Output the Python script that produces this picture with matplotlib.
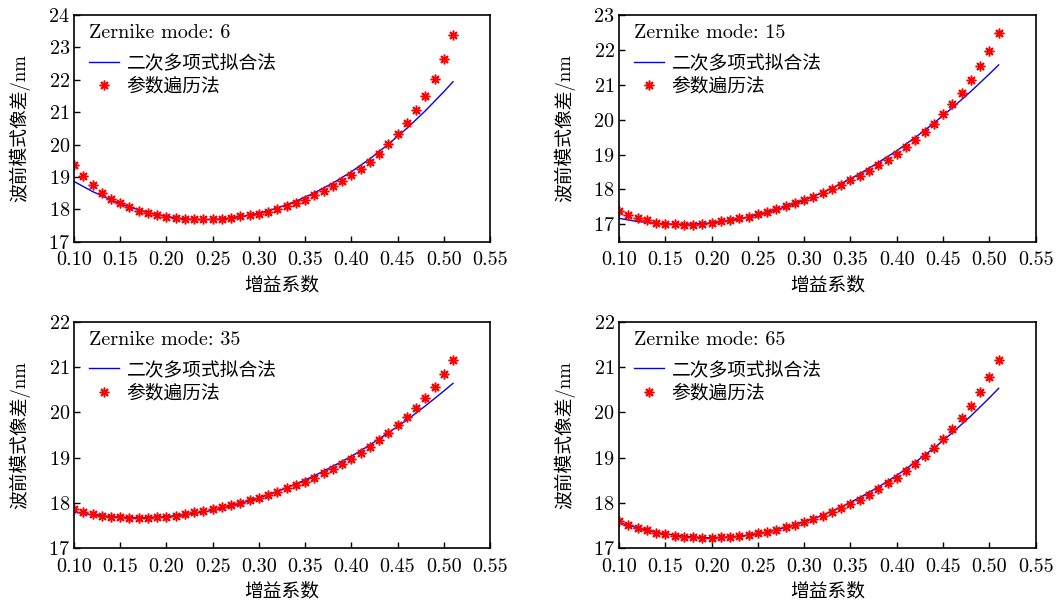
import numpy as np
import matplotlib
matplotlib.use("Agg")
from matplotlib import pyplot as plt

plt.rcParams['font.family'] = ['cmr10', 'Noto Sans CJK SC', 'DejaVu Sans']
plt.rcParams['axes.formatter.use_mathtext'] = True
plt.rcParams['mathtext.fontset'] = 'cm'

# gain coefficient, sampled every 0.01 for the traversal method
gain_pts = [0.10, 0.11, 0.12, 0.13, 0.14, 0.15, 0.16, 0.17, 0.18, 0.19,
            0.20, 0.21, 0.22, 0.23, 0.24, 0.25, 0.26, 0.27, 0.28, 0.29,
            0.30, 0.31, 0.32, 0.33, 0.34, 0.35, 0.36, 0.37, 0.38, 0.39,
            0.40, 0.41, 0.42, 0.43, 0.44, 0.45, 0.46, 0.47, 0.48, 0.49,
            0.50, 0.51]
gain_fit = [0.10, 0.12, 0.14, 0.16, 0.18, 0.20, 0.22, 0.24, 0.26, 0.28,
            0.30, 0.32, 0.34, 0.36, 0.38, 0.40, 0.42, 0.44, 0.46, 0.48,
            0.50, 0.51]

modes = [6, 15, 35, 65]

# 参数遍历法 (points)
trav_6 = [19.36, 19.02, 18.74, 18.51, 18.33, 18.19, 18.07, 17.96, 17.88, 17.81,
          17.77, 17.74, 17.71, 17.69, 17.69, 17.69, 17.71, 17.74, 17.78, 17.81,
          17.86, 17.93, 18.02, 18.10, 18.20, 18.29, 18.43, 18.56, 18.71, 18.86,
          19.06, 19.25, 19.47, 19.72, 20.01, 20.32, 20.67, 21.06, 21.51, 22.04,
          22.65, 23.38]
trav_15 = [17.39, 17.28, 17.18, 17.11, 17.05, 17.02, 17.00, 16.99, 16.99, 17.01,
           17.04, 17.08, 17.12, 17.17, 17.22, 17.29, 17.36, 17.43, 17.51, 17.60,
           17.69, 17.79, 17.90, 18.01, 18.14, 18.26, 18.39, 18.53, 18.69, 18.85,
           19.02, 19.21, 19.42, 19.64, 19.88, 20.15, 20.45, 20.77, 21.13, 21.53,
           21.98, 22.49]
trav_35 = [17.86, 17.79, 17.75, 17.71, 17.69, 17.68, 17.67, 17.67, 17.67, 17.68,
           17.70, 17.72, 17.75, 17.79, 17.82, 17.87, 17.91, 17.96, 18.01, 18.06,
           18.12, 18.18, 18.25, 18.32, 18.39, 18.47, 18.56, 18.66, 18.75, 18.86,
           18.98, 19.10, 19.24, 19.38, 19.54, 19.71, 19.90, 20.10, 20.32, 20.57,
           20.85, 21.16]
trav_65 = [17.60, 17.52, 17.45, 17.40, 17.34, 17.31, 17.28, 17.25, 17.24, 17.23,
           17.23, 17.24, 17.25, 17.28, 17.30, 17.33, 17.37, 17.41, 17.46, 17.52,
           17.58, 17.65, 17.72, 17.80, 17.89, 17.98, 18.07, 18.18, 18.30, 18.43,
           18.56, 18.71, 18.86, 19.03, 19.21, 19.41, 19.63, 19.88, 20.14, 20.44,
           20.77, 21.16]

# 二次多项式拟合法 (line)
fit_6 = [18.86, 18.55, 18.29, 18.07, 17.90, 17.78, 17.70, 17.68, 17.70, 17.77,
         17.88, 18.04, 18.25, 18.51, 18.81, 19.16, 19.56, 20.01, 20.50, 21.04,
         21.63, 21.94]
fit_15 = [17.17, 17.08, 17.03, 17.00, 17.01, 17.04, 17.11, 17.21, 17.34, 17.50,
          17.69, 17.91, 18.17, 18.45, 18.77, 19.11, 19.49, 19.90, 20.34, 20.81,
          21.31, 21.57]
fit_35 = [17.80, 17.74, 17.70, 17.68, 17.68, 17.70, 17.74, 17.80, 17.88, 17.99,
          18.11, 18.25, 18.42, 18.60, 18.81, 19.03, 19.28, 19.55, 19.83, 20.14,
          20.47, 20.64]
fit_65 = [17.57, 17.45, 17.35, 17.29, 17.25, 17.23, 17.25, 17.29, 17.36, 17.46,
          17.58, 17.73, 17.91, 18.12, 18.35, 18.61, 18.90, 19.21, 19.55, 19.92,
          20.32, 20.53]

trav_all = [trav_6, trav_15, trav_35, trav_65]
fit_all = [fit_6, fit_15, fit_35, fit_65]
ylims = [(17, 24), (16.5, 23), (17, 22), (17, 22)]
yticks = [range(17, 25), range(17, 24), range(17, 23), range(17, 23)]
xticks = [0.10, 0.15, 0.20, 0.25, 0.30, 0.35, 0.40, 0.45, 0.50, 0.55]

fig = plt.figure(figsize=(10.59, 6.01), dpi=100)
# [left, bottom, width, height] for each panel
boxes = [[0.0699, 0.5978, 0.3928, 0.3772],
         [0.5845, 0.5978, 0.3935, 0.3772],
         [0.0699, 0.0877, 0.3928, 0.3770],
         [0.5845, 0.0877, 0.3935, 0.3770]]

for i in range(4):
    ax = fig.add_axes(boxes[i])
    ax.plot(gain_fit, fit_all[i], color='blue', lw=1.0, label='二次多项式拟合法')
    ax.plot(gain_pts, trav_all[i], ls='none', marker=(8, 2, 0), ms=7, mew=1.1,
            color='red', label='参数遍历法')
    ax.set_xlim(0.10, 0.55)
    ax.set_ylim(*ylims[i])
    ax.set_xticks(xticks)
    ax.set_xticklabels(['%.2f' % t for t in xticks])
    ax.set_yticks(list(yticks[i]))
    ax.tick_params(direction='in', length=4, width=1, labelsize=14.5)
    ax.tick_params(axis='x', pad=7)
    ax.tick_params(axis='y', pad=3)
    for sp in ax.spines.values():
        sp.set_linewidth(1.2)
    ax.set_xlabel('增益系数', fontsize=13.5, labelpad=5)
    ax.set_ylabel('波前模式像差/nm', fontsize=13.5, labelpad=13)

    ax.text(0.036, 1 - 18 / 226.7, 'Zernike mode: %d' % modes[i], transform=ax.transAxes,
            fontsize=14.5, ha='left', va='center')
    ax.legend(loc='upper left', bbox_to_anchor=(0.036, 0.827), frameon=False,
              fontsize=13.5, handlelength=1.6, handletextpad=0.4, labelspacing=0.3,
              borderaxespad=0, borderpad=0)

plt.savefig('out.png', dpi=100)
